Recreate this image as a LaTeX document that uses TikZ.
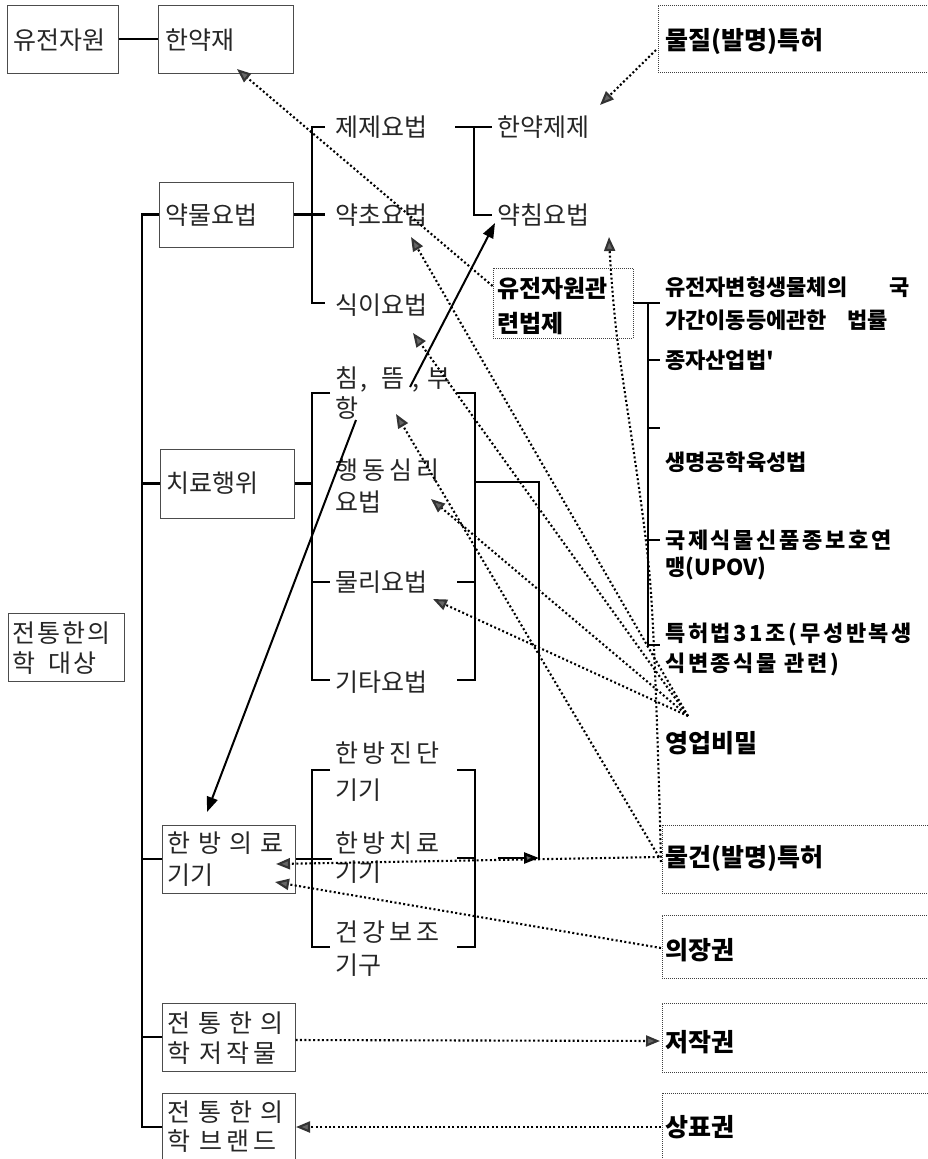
\documentclass[tikz,border=0pt]{standalone}
\usepackage{fontspec}
\newfontfamily\kr{Noto Sans CJK KR}
\newfontfamily\krt[LetterSpace=8]{Noto Sans CJK KR}
\newfontfamily\krs[LetterSpace=16]{Noto Sans CJK KR}
\newfontfamily\krw[LetterSpace=32]{Noto Sans CJK KR}
\newfontfamily\krl[LetterSpace=12]{Noto Sans CJK KR}
\usetikzlibrary{arrows.meta}
\tikzset{
  ln/.style={line width=2.6pt, black},
  bx/.style={draw=black!70, line width=1pt, inner sep=0pt},
  dbx/.style={draw=black!75, line width=0.9pt, dash pattern=on 1pt off 1pt, inner sep=0pt},
  lbl/.style={anchor=west, inner sep=0pt, text height=20pt, text depth=2pt, text=black!85, font=\kr\fontsize{25}{30}\selectfont},
  lbs/.style={lbl, font=\krs\fontsize{25}{30}\selectfont},
  lbw/.style={lbl, font=\krw\fontsize{25}{30}\selectfont},
  lbt/.style={lbl, font=\krt\fontsize{25}{30}\selectfont},
  blbl/.style={lbl, text=black, font=\kr\bfseries\fontsize{25}{30}\selectfont},
  law/.style={lbl, text=black, text height=18pt, font=\kr\bfseries\fontsize{22}{26}\selectfont},
  laws/.style={law, font=\krl\bfseries\fontsize{22}{26}\selectfont},
  da/.style={line width=2.1pt, dash pattern=on 2pt off 2.4pt, -{Triangle[length=14pt,width=11pt,fill=black!60,color=black!80]}},
  sa/.style={line width=2pt, -{Triangle[length=15pt,width=11pt]}}
}
\begin{document}
\begin{tikzpicture}[x=1pt,y=-1pt]
\useasboundingbox[fill=white] (0,0) rectangle (928,1159);

% ---------- solid boxes ----------
\node[bx, minimum width=111pt, minimum height=68pt] (gen) at (62.5,39) {};
\node[bx, minimum width=135pt, minimum height=68pt] (hyj) at (225.5,39) {};
\node[bx, minimum width=134pt, minimum height=65pt] (ymy) at (226,214.5) {};
\node[bx, minimum width=134pt, minimum height=69pt] (chl) at (227,483.5) {};
\node[bx, minimum width=116pt, minimum height=68pt] (obj) at (66,647) {};
\node[bx, minimum width=133pt, minimum height=68pt] (dev) at (228.5,859) {};
\node[bx, minimum width=133pt, minimum height=68pt] (cpw) at (228.5,1037) {};
\node[bx, minimum width=133pt, minimum height=82pt] (brd) at (228.5,1134) {};
% ---------- dotted boxes ----------
\node[dbx, minimum width=140pt, minimum height=70pt] (uhj) at (563,303) {};
\node[dbx, minimum width=282pt, minimum height=67pt] (mat) at (799,38.5) {};
\node[dbx, minimum width=278pt, minimum height=68pt] (thg) at (801,859) {};
\node[dbx, minimum width=278pt, minimum height=63pt] (des) at (801,946.5) {};
\node[dbx, minimum width=278pt, minimum height=69pt] (cpr) at (801,1037.5) {};
\node[dbx, minimum width=278pt, minimum height=82pt] (tmk) at (801,1134) {};

% ---------- box texts ----------
\node[lbl] (genT) at (13,40) {유전자원};
\node[lbl] (hyjT) at (165,40) {한약재};
\node[lbl] (ymyT) at (165,215) {약물요법};
\node[lbl] (chlT) at (166,483) {치료행위};
\node[lbt] (objT1) at (12,633) {전통한의};
\node[lbt] (objT2) at (12,663) {학\hspace{13pt}대상};
\node[lbw] (devT1) at (167,843) {한방의료};
\node[lbl] (devT2) at (167,875) {기기};
\node[lbw] (cpwT1) at (167,1023) {전통한의};
\node[lbs] (cpwT2) at (167,1053) {학 저작물};
\node[lbw] (brdT1) at (167,1112) {전통한의};
\node[lbs] (brdT2) at (167,1141) {학 브랜드};

% ---------- child texts ----------
\node[lbl] (jj) at (335,127) {제제요법};
\node[lbl] (yc) at (335,215) {약초요법};
\node[lbl] (sy) at (335,305) {식이요법};
\node[lbl] (hj) at (497,127) {한약제제};
\node[lbl] (yk) at (497,215) {약침요법};
\node[lbl] (cm1) at (335,378) {침\hspace{2pt},\hspace{14pt}뜸\hspace{8pt},\hspace{8pt}부};
\node[lbl] (cm2) at (335,408) {항};
\node[lbs] (hd1) at (335,470) {행동심리};
\node[lbl] (hd2) at (335,502) {요법};
\node[lbl] (mr) at (335,582) {물리요법};
\node[lbl] (gt) at (335,682) {기타요법};
\node[lbs] (jd1) at (335,753) {한방진단};
\node[lbl] (jd2) at (335,790) {기기};
\node[lbs] (cr1) at (335,843) {한방치료};
\node[lbl] (cr2) at (335,872) {기기};
\node[lbs] (gb1) at (335,932) {건강보조};
\node[lbl] (gb2) at (335,965) {기구};

% ---------- right column texts ----------
\node[blbl, font=\kr\bfseries\fontsize{24}{30}\selectfont] (uhjT1) at (497,288) {유전자원관};
\node[blbl, font=\kr\bfseries\fontsize{24}{30}\selectfont] (uhjT2) at (497,323) {련법제};
\node[blbl] (matT) at (665,40) {물질(발명)특허};
\node[blbl] (thgT) at (665,857) {물건(발명)특허};
\node[blbl] (desT) at (665,950) {의장권};
\node[blbl] (cprT) at (665,1042) {저작권};
\node[blbl] (tmkT) at (665,1127) {상표권};
\node[blbl] (secT) at (665,743) {영업비밀};
\node[law] (l1a) at (665,287) {유전자변형생물체의\hspace{42pt}국};
\node[law] (l1b) at (665,320) {가간이동등에관한\hspace{20pt}법률};
\node[law] (l2) at (665,360) {종자산업법'};
\node[law] (l3) at (665,462) {생명공학육성법};
\node[laws] (l4a) at (665,540) {국제식물신품종보호연};
\node[law] (l4b) at (665,567) {맹(UPOV)};
\node[laws] (l5a) at (665,633) {특허법31조(무성반복생};
\node[laws] (l5b) at (665,663) {식변종식물 관련)};

% ---------- tree lines ----------
\coordinate (vtop) at (142,214.5);
\coordinate (vbot) at (142,1127);
\draw[ln] (gen.east) -- (hyj.west);
\draw[ln] (ymy.west) -- (vtop) -- (vbot) -- (vbot -| brd.west);
\draw[ln] (chl.west) -- (chl.west -| vtop);
\draw[ln] (dev.west) -- (dev.west -| vtop);
\draw[ln] (cpw.west) -- (cpw.west -| vtop);

% bracket 1 (약물요법)
\draw[ln] (ymy.east) -- (325,214.5);
\draw[ln] (325,127) -- (312,127) -- (312,303) -- (325,303);
\draw[ln] (455,127) -- (492,127);
\draw[ln] (474,127) -- (474,215) -- (492,215);

% bracket 2 (치료행위)
\draw[ln] (chl.east) -- (312,483.5);
\draw[ln] (330,393) -- (312,393) -- (312,680) -- (330,680);
\draw[ln] (312,582) -- (330,582);
\draw[ln] (457,393) -- (475,393) -- (475,680) -- (457,680);
\draw[ln] (457,582) -- (475,582);
\draw[ln] (475,482) -- (539,482) -- (539,858);

% bracket 3 (한방의료기기)
\draw[ln] (dev.east) -- (332,859);
\draw[ln] (330,770) -- (312,770) -- (312,947) -- (330,947);
\draw[ln] (457,770) -- (475,770) -- (475,947) -- (457,947);
\draw[ln] (457,858) -- (475,858);
\draw[ln, -{Triangle[length=15pt,width=11pt,fill=black!60]}] (498,858) -- (539,858);

% right bracket (유전자원관련법제)
\draw[ln] (uhj.east) -- (660,303);
\draw[ln] (648,303) -- (648,645) -- (660,645);
\draw[ln] (648,360) -- (660,360);
\draw[ln] (648,428) -- (660,428);
\draw[ln] (648,540) -- (660,540);

% ---------- arrows ----------
\coordinate (sp) at (688,716);
\draw[da] ([yshift=17pt]uhj.west) -- (237,69);
\draw[da] (656,50) -- (600,105);
\draw[sa] (410,387) -- (495,223);
\draw[sa] (356,420) -- (207,812);
\draw[da] (sp) -- (411,237);
\draw[da] (sp) -- (413,333);
\draw[da] (sp) -- (431,499);
\draw[da] (sp) -- (433,599);
\draw[da] plot[smooth] coordinates {(661,862) (650,580) (617,337) (609,237)};
\draw[da] (659,857) -- (396,414);
\draw[da] (659,857) -- (276,864);
\draw[da] (661,948) -- (275,882);
\draw[da] (cpw.east |- 0,1040) -- (660,1041);
\draw[da] (661,1127) -- (296,1127);
\end{tikzpicture}
\end{document}
